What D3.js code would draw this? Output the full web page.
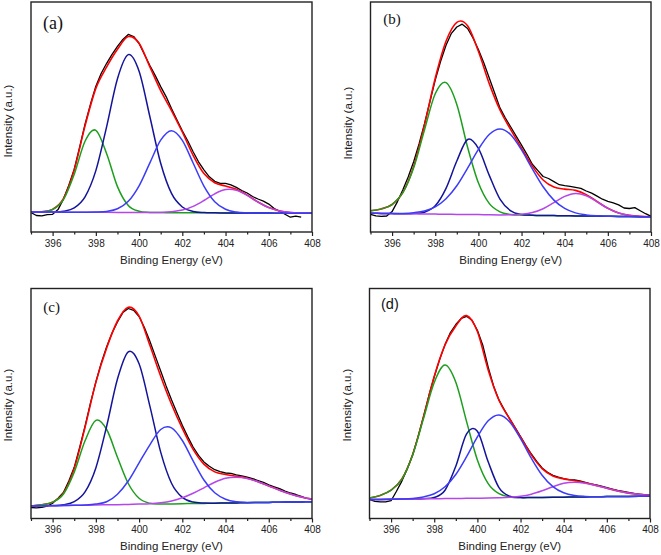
<!DOCTYPE html>
<html><head><meta charset="utf-8">
<script src="https://cdn.jsdelivr.net/npm/d3@7"></script>
<style>body{margin:0;background:#fff}</style>
</head><body>
<svg id="chart" width="661" height="555"></svg>
<script>
// Binding-energy grids (eV)
const energyGrid = [395,395.5,396,396.5,397,397.5,398,398.5,399,399.5,400,400.5,401,401.5,402,402.5,403,403.5,404,404.5,405,405.5,406,406.5,407,407.5,408];
const rawEnergy = [395,395.25,395.5,395.75,396,396.25,396.5,396.75,397,397.25,397.5,397.75,398,398.25,398.5,398.75,399,399.25,399.5,399.75,400,400.25,400.5,400.75,401,401.25,401.5,401.75,402,402.25,402.5,402.75,403,403.25,403.5,403.75,404,404.25,404.5,404.75,405,405.25,405.5,405.75,406,406.25,406.5,406.75,407,407.25,407.5,407.75,408];
const majorTicks = [396,398,400,402,404,406,408];
const minorTicks = [395,397,399,401,403,405,407];
const panelLabels = ["(a)","(b)","(c)","(d)"];
const xTitle = "Binding Energy (eV)";
const yTitle = "Intensity (a.u.)";

// Panel (a)  intensity, a.u.
const baseA = [20,19.95,19.9,19.85,19.8,19.75,19.7,19.65,19.6,19.55,19.5,19.45,19.4,19.35,19.3,19.25,19.2,19.15,19.1,19.05,19,18.95,18.9,18.85,18.8,18.75,18.7];
const greenA = [0,0.3,2.6,12.5,38,71,82,58.7,25.8,7,1.2,0.1,0,0,0,0,0,0,0,0,0,0,0,0,0,0,0];
const navyA = [0,0,0.1,0.9,4.3,15.4,41.7,85.8,133.7,157.8,141.3,95.8,49.3,19.2,5.7,1.3,0.2,0,0,0,0,0,0,0,0,0,0];
const blueA = [0,0,0,0,0,0,0.2,0.9,3.6,11.1,26.7,49.7,72.4,82,72.4,49.7,26.7,11.1,3.6,0.9,0.2,0,0,0,0,0,0];
const purpleA = [0,0,0,0,0,0,0,0,0,0,0,0,0.2,0.9,2.6,6.4,12.3,19,23.3,22.7,17.7,11,5.5,2.2,0.7,0.2,0];
const rawA = [19.5,16.5,16.2,17.4,17.7,22.4,32.9,46.8,62.8,84.8,107.8,127.7,145.7,158.7,168.7,177.6,185.6,192.6,197.6,195.5,188.5,177.5,166.5,156.4,145.4,135.4,123.4,112.3,101.3,91.3,80.3,70.2,62.2,55.2,50.7,48.6,48.6,47.1,44.6,41.5,39,35.5,33,30.9,27.9,23.4,20.9,17.8,14.8,15.8,14.8];

// Panel (b)
const baseB = [18.7,18.6,18.4,18.3,18.2,18.0,17.9,17.8,17.6,17.5,17.4,17.2,17.1,17.0,16.8,16.7,16.5,16.4,16.3,16.1,16.0,15.9,15.7,15.6,15.5,15.3,15.2];
const greenB = [2.5,4.5,9,21,46,84,120.3,131.5,110,67.3,31.8,11.4,3.1,0.6,0.1,0,0,0,0,0,0,0,0,0,0,0,0];
const navyB = [0,0,0,0,0.3,1.8,8.3,25.9,53.4,75,66.2,39.7,15.8,4.2,0.7,0.1,0,0,0,0,0,0,0,0,0,0,0];
const blueB = [0,0,0.1,0.3,1.1,3,7.3,15.5,28.7,46.4,65.3,80.3,86,80.3,65.3,46.4,28.7,15.5,7.3,3,1.1,0.3,0.1,0,0,0,0];
const purpleB = [0,0,0,0,0,0,0,0,0,0,0,0,0,0.2,0.9,2.7,6.8,13,19.3,22.5,20.3,14.3,7.9,3.4,1.1,0.3,0.1];
const rawB = [17.7,16.1,15.6,16.0,20.4,30.4,42.3,55.2,70.2,88.1,108,130,151.9,170.8,186.8,198.7,205,207.8,203.5,194,182.4,169.3,154.2,139.2,124.1,114,105,95.9,86.8,77.7,67.7,61.6,55.5,53.5,50.4,47.3,46.3,45.7,44.6,43.6,41,38.9,35.9,32.8,30.7,29.2,27.1,24,23.5,24.4,21.3,18.3,15.7];

// Panel (c)
const baseC = [12.5,12.7,12.8,13.0,13.2,13.3,13.5,13.7,13.8,14.0,14.2,14.3,14.5,14.6,14.8,15.0,15.1,15.3,15.5,15.6,15.8,16.0,16.1,16.3,16.5,16.6,16.8];
const greenC = [0,1,3.5,11.5,33.2,64.4,84.6,75.3,47.5,21,6,0.9,0.1,0,0,0,0,0,0,0,0,0,0,0,0,0,0];
const navyC = [0,0,0.1,0.7,3.6,13.3,37.1,78.6,125.7,152.7,140.5,98.1,51.9,20.7,6.3,1.4,0.3,0,0,0,0,0,0,0,0,0,0];
const blueC = [0,0,0,0,0,0.2,0.9,3,10.5,23.5,41.5,59.4,74.5,76,63.2,42.6,23.4,10.4,3.8,1.1,0.3,0,0,0,0,0,0];
const purpleC = [0,0,0,0,0,0,0,0,0,0.1,0.2,0.5,1.3,3,5.9,10.2,15.6,20.9,24.7,25.6,24.2,20.8,16.5,12,8,4.9,2.7];
const rawC = [11,10.6,11.2,12.3,15.3,20.4,26,37.6,51.2,71.2,92.3,115.4,136.5,155.6,171.7,185.5,196.5,205.9,210,208.1,202,190.8,177.3,162.4,147.5,132.6,118.7,105.7,93.3,81.9,71.5,63.1,56.6,52.2,48.8,46.9,45.5,45.1,43.6,42.7,41.3,39.9,38,36.1,33.6,31.7,29.8,27.4,25.5,24,22.1,20.2,19.3];

// Panel (d)
const baseD = [19.0,19.1,19.3,19.4,19.5,19.7,19.8,19.9,20.0,20.2,20.3,20.4,20.6,20.7,20.8,21.0,21.1,21.2,21.3,21.5,21.6,21.7,21.9,22.0,22.1,22.3,22.4];
const greenD = [1.5,4,9,20,44,80,116.2,133.5,116.2,76.7,38.3,14.5,4.2,0.9,0.1,0,0,0,0,0,0,0,0,0,0,0,0];
const navyD = [0,0,0,0,0,0.1,1.2,8.4,32.3,64.4,67,36.3,10.3,1.5,0.1,0,0,0,0,0,0,0,0,0,0,0,0];
const blueD = [0,0,0,0.1,0.5,1.8,4.9,11.8,24,41.6,61.4,77.4,83,75.9,59.1,39.3,22.2,10.7,4.4,1.5,0.5,0.1,0,0,0,0,0];
const purpleD = [0,0,0,0,0,0,0,0,0,0,0,0,0.1,0.5,1.4,3.3,6.6,10.6,13.9,14.8,13.7,11.3,8.4,5.6,3.3,1.8,0.8];
const rawD = [19,17.1,16.6,16.7,17.8,27.3,37.4,49.5,63.5,81.6,101.7,122.7,141.8,158.9,173.9,186,194,200.1,202.2,198.2,188.3,173.4,151.4,132.5,118.6,108.6,99.7,90.8,81.8,72.9,64.5,57,50.6,46.2,43.2,41.3,39.8,38.9,38.5,37.5,36.1,34.7,33.7,32.3,30.9,29.4,28,27.1,26.1,25.2,24.3,23.8,23.4];

const compColors = ["#1e9e1e","#14149a","#b446ea","#3c3cf8"]; // green, navy, purple, blue (draw order)

const panels = [
  {label:panelLabels[0], lf:"'Liberation Serif','Times New Roman',serif", ls:18, lx:43, ly:28.5,
   base:baseA, comps:[greenA,navyA,purpleA,blueA], raw:rawA,
   left:31, right:312, bottom:232, ytx:7.5, yty:121},
  {label:panelLabels[1], lf:"'Liberation Serif','Times New Roman',serif", ls:15, lx:383.3, ly:24,
   base:baseB, comps:[greenB,navyB,purpleB,blueB], raw:rawB,
   left:370.5, right:651, bottom:232, ytx:347.5, yty:123},
  {label:panelLabels[2], lf:"'Liberation Serif','Times New Roman',serif", ls:15, lx:43.3, ly:312.3,
   base:baseC, comps:[greenC,navyC,purpleC,blueC], raw:rawC,
   left:31, right:312, bottom:518.5, ytx:7.5, yty:405},
  {label:panelLabels[3], lf:"'Liberation Sans',Arial,sans-serif", ls:14.5, lx:381, ly:309,
   base:baseD, comps:[greenD,navyD,purpleD,blueD], raw:rawD,
   left:369.5, right:650, bottom:518.5, ytx:346.5, yty:405}
];

const svg = d3.select("#chart");
const sans = "'Liberation Sans',Arial,Helvetica,sans-serif";

panels.forEach((p, k) => {
  const H = 230;
  const x = d3.scaleLinear().domain([395,408]).range([p.left, p.right]);
  const y = d3.scaleLinear().domain([0,230]).range([p.bottom, p.bottom - H]);
  const g = svg.append("g");
  const cid = "clip" + k;
  g.append("clipPath").attr("id", cid).append("rect")
    .attr("x", p.left).attr("y", p.bottom - H).attr("width", p.right - p.left).attr("height", H);
  const plot = g.append("g").attr("clip-path", `url(#${cid})`);

  const smooth = d3.line().x(d => x(d[0])).y(d => y(d[1])).curve(d3.curveCardinal.tension(0));
  const jag = d3.line().x(d => x(d[0])).y(d => y(d[1]));

  // raw spectrum
  const rawPts = p.raw.map((v, i) => [rawEnergy[i], v]);
  plot.append("path").attr("d", jag(rawPts)).attr("fill", "none")
    .attr("stroke", "#000").attr("stroke-width", 1.3).attr("stroke-linejoin", "round");

  // envelope = background + sum of components
  const envPts = energyGrid.map((e, i) => [e, p.base[i] + d3.sum(p.comps, c => c[i])]);
  plot.append("path").attr("d", smooth(envPts)).attr("fill", "none")
    .attr("stroke", "#ff0000").attr("stroke-width", 1.6);

  // components on the background
  p.comps.forEach((c, j) => {
    const pts = energyGrid.map((e, i) => [e, p.base[i] + c[i]]);
    plot.append("path").attr("d", smooth(pts)).attr("fill", "none")
      .attr("stroke", compColors[j]).attr("stroke-width", 1.5);
  });

  // frame
  g.append("rect").attr("x", p.left).attr("y", p.bottom - H)
    .attr("width", p.right - p.left).attr("height", H)
    .attr("fill", "none").attr("stroke", "#222").attr("stroke-width", 1.4);

  // x axis
  const ax = g.append("g").attr("transform", `translate(0,${p.bottom})`)
    .call(d3.axisBottom(x).tickValues(majorTicks).tickSize(4).tickPadding(3.5).tickFormat(d3.format("d")));
  ax.select(".domain").remove();
  ax.selectAll("line").attr("stroke", "#222").attr("stroke-width", 1.2);
  ax.selectAll("text").attr("font-family", sans).attr("font-size", 10).attr("fill", "#222");
  const axm = g.append("g").attr("transform", `translate(0,${p.bottom})`)
    .call(d3.axisBottom(x).tickValues(minorTicks).tickSize(2.5).tickFormat(""));
  axm.select(".domain").remove();
  axm.selectAll("line").attr("stroke", "#222").attr("stroke-width", 1.2);

  // titles
  g.append("text").attr("x", (p.left + p.right) / 2).attr("y", p.bottom + 27.5)
    .attr("text-anchor", "middle").attr("dominant-baseline", "central")
    .attr("font-family", sans).attr("font-size", 11.5).attr("fill", "#222").text(xTitle);
  g.append("text").attr("transform", `translate(${p.ytx},${p.yty}) rotate(-90)`)
    .attr("text-anchor", "middle").attr("dominant-baseline", "central")
    .attr("font-family", sans).attr("font-size", 11.5).attr("fill", "#222").text(yTitle);
  g.append("text").attr("x", p.lx).attr("y", p.ly)
    .attr("font-family", p.lf).attr("font-size", p.ls).attr("fill", "#111").text(p.label);
});
</script>
</body></html>
